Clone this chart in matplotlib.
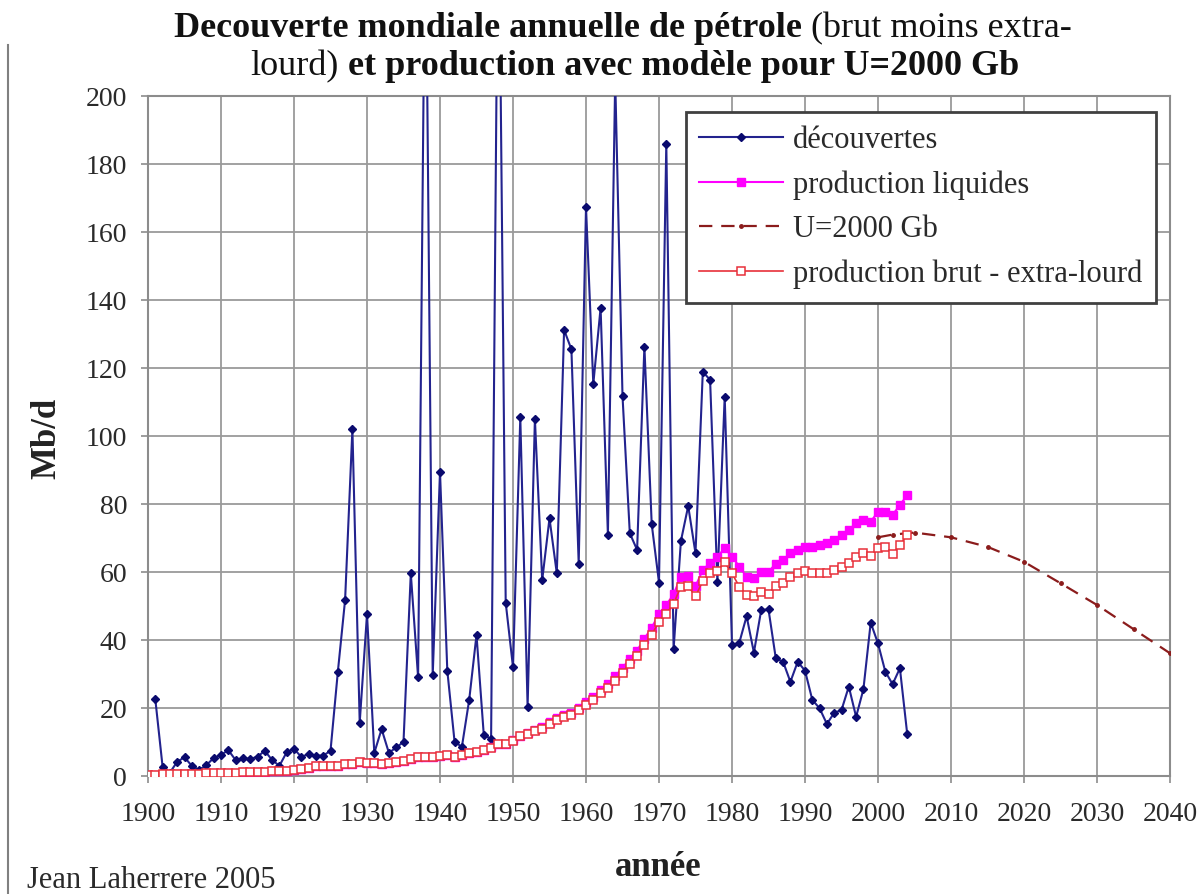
import matplotlib
matplotlib.use("Agg")
import matplotlib.pyplot as plt
import numpy as np

plt.rcParams['font.family'] = ['Liberation Serif', 'DejaVu Serif']

# discoveries (Mb/d), 1901-2004
disc_years = list(range(1901, 2005))
discoveries = [
    22.6, 2.7, 1.0, 4.2, 5.5, 3.0, 1.8, 3.2, 5.3, 6.2,            # 1901-1910
    7.6, 4.7, 5.2, 5.0, 5.7, 7.4, 4.7, 3.0, 7.0, 8.0,             # 1911-1920
    5.6, 6.5, 6.0, 6.0, 7.4, 30.5, 51.8, 102.0, 15.7, 47.6,       # 1921-1930
    6.8, 13.8, 6.8, 8.4, 10.0, 59.6, 29.0, 260.0, 29.6, 89.5,     # 1931-1940
    31.0, 10.0, 8.6, 22.4, 41.5, 12.0, 11.0, 270.0, 51.0, 32.0,   # 1941-1950
    105.5, 20.4, 105.0, 57.6, 75.8, 59.6, 131.2, 125.5, 62.5, 167.3,  # 1951-1960
    115.3, 137.7, 70.9, 205.0, 111.8, 71.4, 66.5, 126.3, 74.1, 56.9,  # 1961-1970
    186.0, 37.3, 69.1, 79.4, 65.5, 118.9, 116.5, 57.2, 111.6, 38.5,   # 1971-1980
    39.2, 47.0, 36.3, 48.8, 49.0, 34.6, 33.6, 27.7, 33.6, 31.0,   # 1981-1990
    22.4, 19.9, 15.3, 18.6, 19.4, 26.3, 17.4, 25.5, 45.1, 39.0,   # 1991-2000
    30.7, 27.0, 31.7, 12.4,                                       # 2001-2004
]

# production (Mb/d), 1900-2004
prod_years = list(range(1900, 2005))
crude = [
    0.4, 0.4, 0.5, 0.5, 0.6, 0.6, 0.6, 0.7, 0.8, 0.8,
    0.9, 1.0, 1.0, 1.1, 1.1, 1.2, 1.3, 1.4, 1.4, 1.5,
    1.9, 2.1, 2.4, 2.8, 2.8, 2.9, 3.0, 3.4, 3.6, 4.0,
    3.8, 3.7, 3.5, 3.9, 4.1, 4.5, 4.9, 5.6, 5.5, 5.7,
    5.9, 6.1, 5.7, 6.1, 6.9, 7.1, 7.6, 8.3, 9.4, 9.3,
    10.4, 11.7, 12.4, 13.1, 13.9, 15.3, 16.6, 17.3, 18.0, 19.4,
    20.9, 22.4, 24.3, 26.0, 28.0, 30.4, 32.9, 35.2, 38.6, 41.6,
    45.3, 47.7, 50.7, 55.7, 55.9, 52.8, 57.4, 59.6, 60.4, 62.8,
    59.6, 55.7, 53.2, 53.0, 54.0, 53.5, 56.0, 56.9, 58.6, 59.6,
    60.4, 59.8, 59.8, 59.6, 60.6, 61.6, 62.7, 64.3, 65.5, 64.7,
    67.0, 67.4, 65.3, 67.9, 70.9,
]
liquids = [
    0.4, 0.4, 0.5, 0.5, 0.6, 0.6, 0.6, 0.7, 0.8, 0.8,
    0.9, 1.0, 1.0, 1.1, 1.1, 1.2, 1.3, 1.4, 1.4, 1.5,
    1.9, 2.1, 2.4, 2.8, 2.8, 2.9, 3.0, 3.4, 3.6, 4.0,
    3.8, 3.7, 3.5, 3.9, 4.1, 4.5, 4.9, 5.6, 5.5, 5.7,
    5.9, 6.1, 5.7, 6.1, 6.9, 7.2, 7.7, 8.4, 9.5, 9.5,
    10.6, 11.9, 12.7, 13.4, 14.3, 15.8, 17.1, 17.9, 18.6, 20.1,
    21.7, 23.3, 25.3, 27.1, 29.3, 31.8, 34.4, 36.9, 40.4, 43.6,
    47.7, 50.3, 53.5, 58.6, 58.7, 55.8, 60.6, 62.6, 64.5, 67.0,
    64.5, 61.6, 58.6, 58.1, 60.1, 60.0, 62.5, 63.5, 65.5, 66.5,
    67.3, 67.5, 67.8, 68.4, 69.4, 70.9, 72.4, 74.3, 75.3, 74.8,
    77.7, 77.7, 76.8, 79.7, 82.6,
]

# model U=2000 Gb
model_years = [2000, 2002, 2005, 2010, 2015, 2020, 2025, 2030, 2035, 2040]
model = [70.2, 71.0, 71.6, 70.2, 67.4, 63.0, 56.7, 50.3, 43.2, 36.1]

W, H = 1203, 894
fig = plt.figure(figsize=(W / 100, H / 100), dpi=100)
ax = fig.add_axes([148 / W, 1 - 776 / H, (1170 - 148) / W, (776 - 96) / H])

ax.plot(disc_years, discoveries, color='#23238e', lw=1.5, marker='D', ms=4,
        mfc='#0a0a6e', mec='#0a0a6e', label='découvertes', zorder=3)
ax.plot(prod_years, liquids, color='#ff00ff', lw=1.5, marker='s', ms=5.5,
        mfc='#ff00ff', mec='#ff00ff', label='production liquides', zorder=4)
ax.plot(model_years, model, color='#8b1c1c', lw=1.6, ls=(0, (6, 4)), marker='o',
        ms=2.5, label='U=2000 Gb', zorder=5)
ax.plot(prod_years, crude, color='#e8303a', lw=1.2, marker='s', ms=5.5,
        mfc='white', mec='#e8303a', mew=1.1, label='production brut - extra-lourd', zorder=6)

ax.set_xlim(1900, 2040)
ax.set_ylim(0, 200)
ax.set_xticks(np.arange(1900, 2041, 10))
ax.set_yticks(np.arange(0, 201, 20))
ax.grid(True, color='#9a9a9a', lw=1.3)
ax.set_axisbelow(True)
for s in ax.spines.values():
    s.set_color('#8c8c8c')
    s.set_linewidth(1.5)
ax.tick_params(axis='both', labelsize=20, colors='#8c8c8c', labelcolor='#2a2a2a',
               length=5, width=1.2)
ax.tick_params(axis='x', pad=14)
ax.tick_params(axis='y', pad=10)

leg = ax.legend(loc='upper left', bbox_to_anchor=(0.526, 0.976), borderaxespad=0,
                fontsize=22, handlelength=2.75, handletextpad=0.3,
                labelspacing=0.5, borderpad=0.45, fancybox=False,
                framealpha=1, edgecolor='#404040')
leg.get_frame().set_linewidth(2)
for t in leg.get_texts():
    t.set_color('#2a2a2a')

fig.text(47 / W, 1 - 438 / H, 'Mb/d', rotation=90, fontsize=25, fontweight='bold',
         ha='center', va='center', color='#222222')
fig.text(658 / W, 1 - 868 / H, 'année', fontsize=25, fontweight='bold',
         ha='center', va='center', color='#222222')
fig.text(27 / W, 1 - 880 / H, 'Jean Laherrere 2005', fontsize=22,
         ha='left', va='center', color='#2a2a2a')

# left border line of the chart area
fig.add_artist(plt.Line2D([8 / W, 8 / W], [0, 1 - 45 / H], color='#808080', lw=1.5))


# title lines with mixed bold / normal parts
def mixed_line(y_px, parts, cx_px):
    texts = [fig.text(0, 1 - y_px / H, s, fontsize=26, fontweight=w,
                      va='baseline', ha='left', color='#111111') for s, w in parts]
    r = fig.canvas.get_renderer()
    widths = [t.get_window_extent(r).width for t in texts]
    x = cx_px - sum(widths) / 2
    for t, w in zip(texts, widths):
        t.set_x(x / W)
        x += w


mixed_line(37, [('Decouverte mondiale annuelle de pétrole', 'bold'),
                (' (brut moins extra-', 'normal')], 623)
mixed_line(75, [('lourd)', 'normal'),
                (' et production avec modèle pour U=2000 Gb', 'bold')], 635)

fig.savefig('out.png', dpi=100)
